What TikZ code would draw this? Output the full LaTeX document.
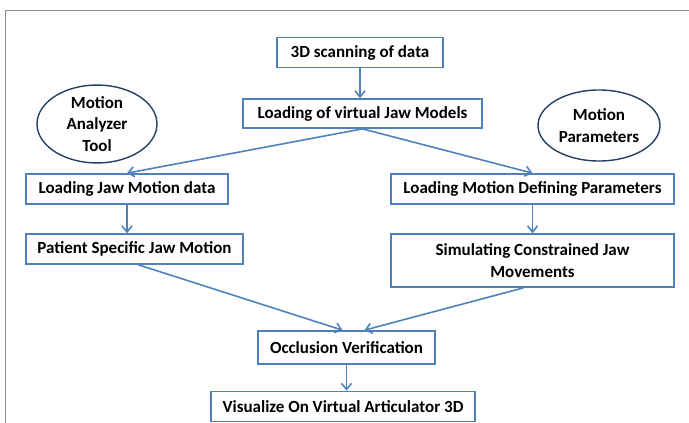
\documentclass[tikz,border=0pt]{standalone}
\usepackage{fontspec}
\setmainfont{Carlito}
\usetikzlibrary{shapes.geometric,arrows.meta}
\definecolor{boxblue}{HTML}{4F81BD}
\definecolor{ovalblue}{HTML}{243F60}
\definecolor{framegray}{HTML}{8C8C8C}

\begin{document}
\begin{tikzpicture}[x=1pt,y=-1pt,
  every node/.style={font=\bfseries\fontsize{17}{21.5}\selectfont},
  stepbox/.style={draw=boxblue,line width=1.7pt,fill=white,inner sep=1pt,minimum height=30pt},
  oval/.style={ellipse,draw=ovalblue,line width=1.4pt,align=center,inner sep=0pt},
  flow/.style={draw=boxblue,line width=1.6pt,-{Straight Barb[length=6pt,width=10pt]}}]
  \useasboundingbox (0,0) rectangle (689,423);
  \draw[framegray,line width=1.5pt] (5.5,423) -- (5.5,10.5) -- (689,10.5);
  % boxes
  \node[stepbox,minimum width=166pt] (scan) at (360,52.5) {3D scanning of data};
  \node[stepbox,minimum width=239pt,minimum height=29pt] (load) at (362.5,113.5) {Loading of virtual Jaw Models};
  \node[oval,minimum width=120pt,minimum height=72pt] (analyzer) at (97,124) {Motion\\Analyzer\\Tool};
  \node[oval,minimum width=122pt,minimum height=71pt] (param) at (599,125.5) {Motion\\Parameters};
  \node[stepbox,minimum width=202pt] (jawdata) at (127,189) {Loading Jaw Motion data};
  \node[stepbox,minimum width=283pt] (defparam) at (532.5,189) {Loading Motion Defining Parameters};
  \node[stepbox,minimum width=217pt] (patient) at (134.5,249) {Patient Specific Jaw Motion};
  \node[stepbox,minimum width=283pt,minimum height=53pt,align=center] (simul) at (532.5,260.5) {Simulating Constrained Jaw\\Movements};
  \node[stepbox,minimum width=177pt,minimum height=33pt] (occl) at (346.5,347.5) {Occlusion Verification};
  \node[stepbox,minimum width=264pt] (visual) at (343,406.5) {Visualize On Virtual Articulator 3D};
  % arrows
  \draw[flow] (scan.south) -- (scan.south |- load.north);
  \draw[flow] (load.south) -- (jawdata.north);
  \draw[flow] (load.south) -- (defparam.north);
  \draw[flow] (jawdata.south) -- (jawdata.south |- patient.north);
  \draw[flow] (defparam.south) -- (simul.north);
  \draw[flow] ([xshift=4pt]patient.south) -- ([xshift=-4pt]occl.north);
  \draw[flow] ([xshift=-9pt]simul.south) -- ([xshift=18pt]occl.north);
  \draw[flow] (occl.south) -- (occl.south |- visual.north);
\end{tikzpicture}
\end{document}
